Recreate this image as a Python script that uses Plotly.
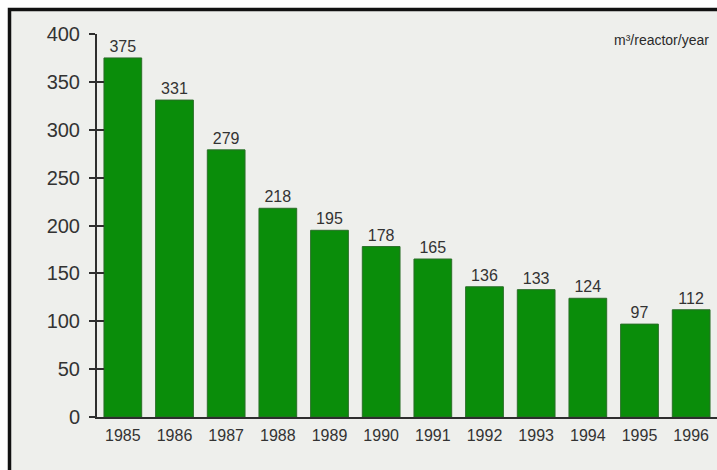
import plotly.graph_objects as go

# Annual volume of low-level waste produced per reactor
years = [1985, 1986, 1987, 1988, 1989, 1990, 1991, 1992, 1993, 1994, 1995, 1996]
volumes = [375, 331, 279, 218, 195, 178, 165, 136, 133, 124, 97, 112]
y_ticks = [0, 50, 100, 150, 200, 250, 300, 350, 400]
unit_label = "m³/reactor/year"

W, H = 717, 470
L, R, T, B = 97, 0, 34, 53
PW, PH = W - L - R, H - T - B
FONT = "Liberation Sans, Arial, sans-serif"
INK = "#333333"


def px_x(p):
    return (p - L) / PW


def px_y(p):
    return 1 - (p - T) / PH


fig = go.Figure()

fig.add_trace(go.Bar(
    x=years, y=volumes,
    marker=dict(color="#0a8d0a", line=dict(color="#2a6e28", width=1)),
    text=[str(v) for v in volumes], textposition="outside",
    textfont=dict(family=FONT, size=16, color=INK),
    cliponaxis=False, showlegend=False,
))

# second y-axis carries the inward half of the cross ticks
fig.add_trace(go.Scatter(x=[years[0]], y=[0], yaxis="y2", mode="markers",
                         marker=dict(opacity=0), hoverinfo="skip", showlegend=False))

fig.update_layout(
    width=W, height=H,
    margin=dict(l=L, r=R, t=T, b=B),
    paper_bgcolor="white",
    plot_bgcolor="rgba(0,0,0,0)",
    bargap=0.27,
    font=dict(family=FONT, color=INK),
    xaxis=dict(
        range=[years[0] - 0.5, years[-1] + 0.5],
        tickmode="array", tickvals=years, ticktext=[str(y) for y in years],
        showline=True, linecolor="#2e2e2e", linewidth=2,
        ticks="", showgrid=False, zeroline=False,
        tickfont=dict(family=FONT, size=16, color=INK),
        ticklabelstandoff=3,
    ),
    yaxis=dict(
        range=[0, 400], tickmode="array", tickvals=y_ticks,
        showline=True, linecolor="#2e2e2e", linewidth=2,
        ticks="outside", ticklen=6, tickwidth=2, tickcolor="#2e2e2e",
        showgrid=False, zeroline=False,
        tickfont=dict(family=FONT, size=20, color=INK),
        ticklabelstandoff=5,
    ),
    yaxis2=dict(
        range=[0, 400], overlaying="y", side="left", anchor="x",
        tickmode="array", tickvals=y_ticks, showticklabels=False,
        ticks="inside", ticklen=7, tickwidth=2, tickcolor="#2e2e2e",
        showgrid=False, zeroline=False, showline=False,
    ),
    shapes=[dict(
        type="rect", xref="paper", yref="paper", layer="below",
        x0=px_x(9.5), x1=px_x(W + 20), y0=px_y(9.5), y1=px_y(H + 20),
        fillcolor="#eeefec", line=dict(color="#111111", width=3.5),
    )],
    annotations=[dict(
        text=unit_label, xref="paper", yref="paper",
        x=px_x(612), y=px_y(40), xanchor="left", yanchor="middle",
        showarrow=False, font=dict(family=FONT, size=14, color="#2a2a2a"),
    )],
)

fig.write_html("out.html")
